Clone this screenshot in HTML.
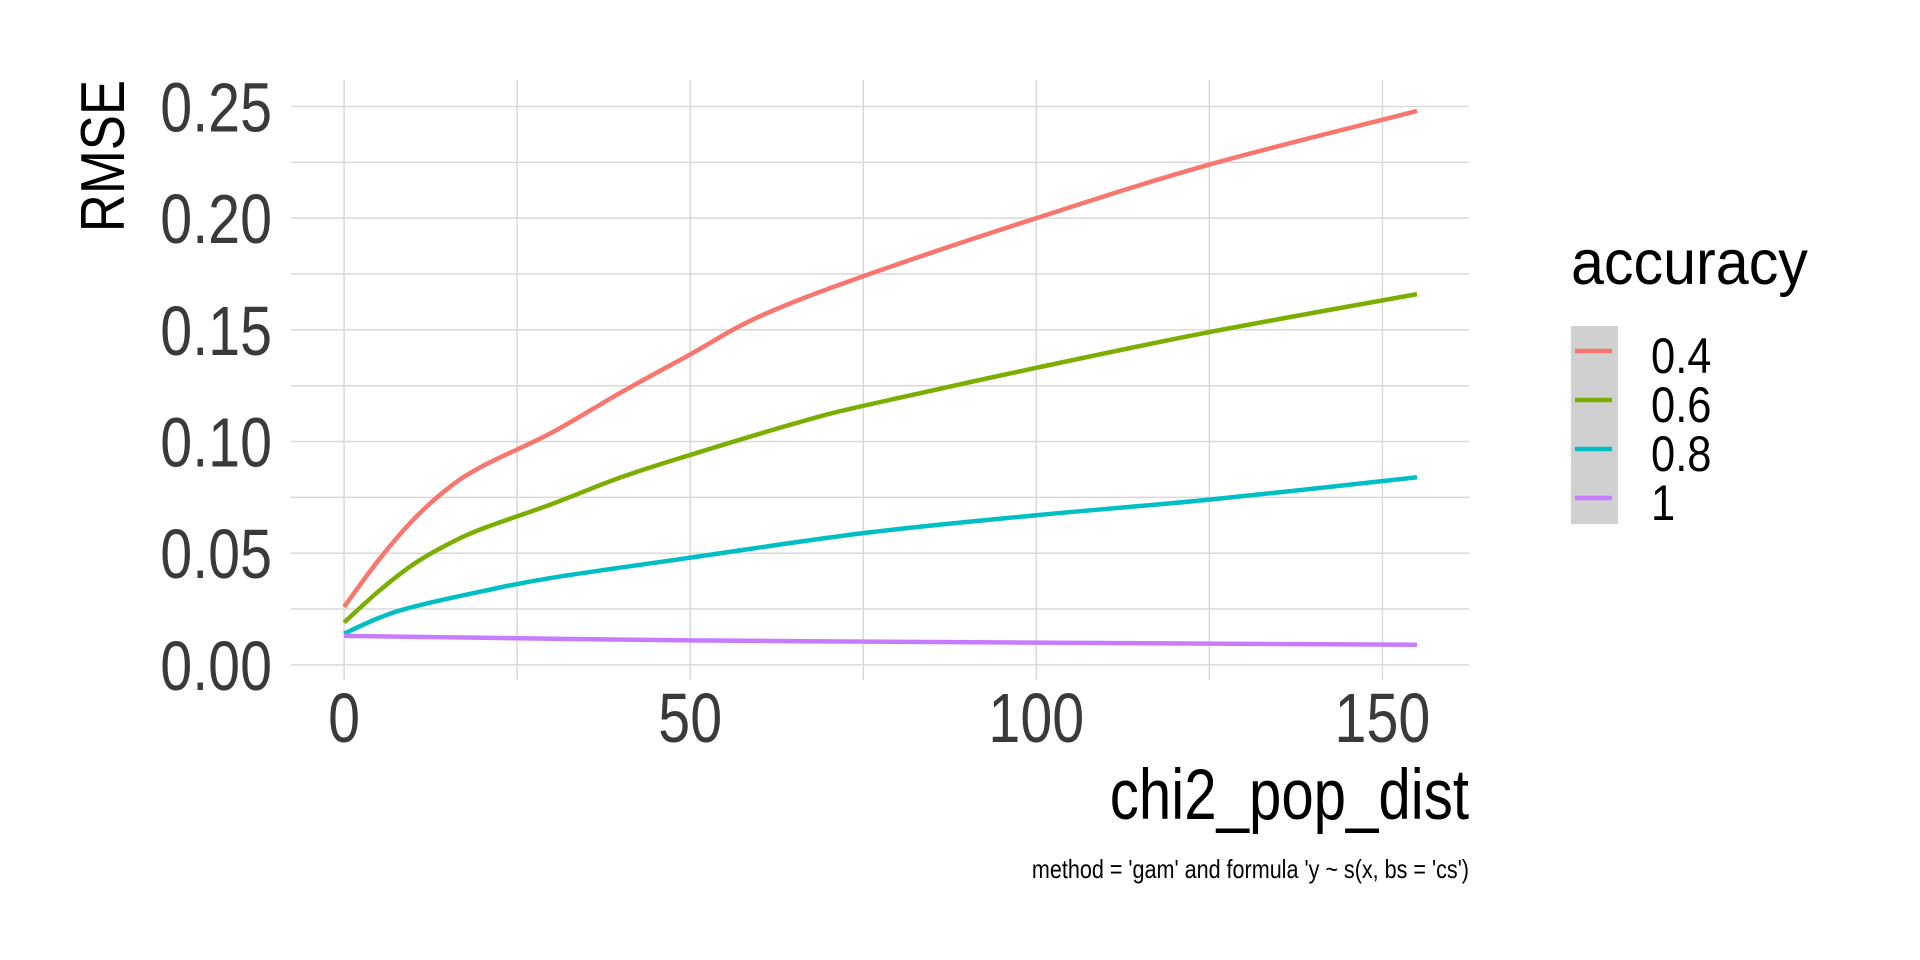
<!DOCTYPE html>
<html><head><meta charset="utf-8"><style>
html,body{margin:0;padding:0;background:#fff;}
svg{display:block;}
text{font-family:"Liberation Sans",sans-serif;}
</style></head><body>
<svg id="s" width="1920" height="960" xmlns="http://www.w3.org/2000/svg">
<g id="grid"></g>
<g id="lines" fill="none" stroke-width="4.5" stroke-linejoin="round" stroke-linecap="butt"></g>
<g fill="#3a3a3a" font-size="70" text-anchor="end" id="ylab"></g>
<g fill="#3a3a3a" font-size="70" text-anchor="middle" id="xlab"></g>
<text transform="translate(124,80) rotate(-90) scale(0.85,1)" text-anchor="end" font-size="62" fill="#000">RMSE</text>
<text transform="translate(1469,819) scale(0.82,1)" text-anchor="end" font-size="71" fill="#000">chi2_pop_dist</text>
<text transform="translate(1469,878) scale(0.83,1)" text-anchor="end" font-size="26" fill="#000">method = 'gam' and formula 'y ~ s(x, bs = 'cs')</text>
<text transform="translate(1571,284) scale(0.94,1)" font-size="63" fill="#000">accuracy</text>
<rect x="1571" y="326" width="47" height="198" fill="#d0d0d0"/>
<g stroke-width="4.5">
<line x1="1575" x2="1612" y1="351" y2="351" stroke="#F8766D"/>
<line x1="1575" x2="1612" y1="400" y2="400" stroke="#7CAE00"/>
<line x1="1575" x2="1612" y1="449" y2="449" stroke="#00BFC4"/>
<line x1="1575" x2="1612" y1="498" y2="498" stroke="#C77CFF"/>
</g>
<g font-size="50" fill="#000">
<text transform="translate(1651,373) scale(0.87,1)">0.4</text>
<text transform="translate(1651,422) scale(0.87,1)">0.6</text>
<text transform="translate(1651,471) scale(0.87,1)">0.8</text>
<text transform="translate(1651,520) scale(0.87,1)">1</text>
</g>
</svg>
<script>
var NS="http://www.w3.org/2000/svg";
function X(v){return 344.1+v*6.922;}
function Y(v){return 664.9-v*2233.6;}
function el(p,t,a,txt){var e=document.createElementNS(NS,t);for(var k in a)e.setAttribute(k,a[k]);if(txt!=null)e.textContent=txt;document.getElementById(p).appendChild(e);return e;}
var L=291,R=1469,T=80,B=680;
for(var i=0;i<=10;i++){var v=i*0.025,y=Y(v);el("grid","line",{x1:L,x2:R,y1:y,y2:y,stroke:"#d9d9d9","stroke-width":1.5});}
for(var i=0;i<=6;i++){var v=i*25,x=X(v);el("grid","line",{x1:x,x2:x,y1:T,y2:B,stroke:"#d9d9d9","stroke-width":1.5});}
["0.00","0.05","0.10","0.15","0.20","0.25"].forEach(function(t,i){el("ylab","text",{transform:"translate(272,"+(Y(i*0.05)+25)+") scale(0.82,1)"},t);});
["0","50","100","150"].forEach(function(t,i){el("xlab","text",{transform:"translate("+X(i*50)+",742) scale(0.82,1)"},t);});
var S=[["#F8766D",[[0,0.026],[5,0.047],[10,0.065],[15,0.079],[20,0.089],[30,0.104],[40,0.122],[50,0.139],[60,0.156],[75,0.174],[100,0.2],[125,0.224],[155,0.248]]],
["#7CAE00",[[0,0.019],[5,0.033],[10,0.045],[15,0.054],[20,0.061],[30,0.072],[40,0.084],[50,0.094],[65,0.108],[75,0.116],[100,0.133],[125,0.149],[155,0.166]]],
["#00BFC4",[[0,0.014],[5,0.021],[10,0.026],[20,0.033],[30,0.039],[50,0.048],[75,0.059],[100,0.067],[125,0.074],[155,0.084]]],
["#C77CFF",[[0,0.013],[50,0.011],[100,0.010],[155,0.009]]]];
S.forEach(function(s){var p=s[1],d="M"+X(p[0][0])+","+Y(p[0][1]);
for(var i=0;i<p.length-1;i++){var p0=p[i-1]||p[i],p1=p[i],p2=p[i+1],p3=p[i+2]||p[i+1];
var c1x=X(p1[0])+(X(p2[0])-X(p0[0]))/6,c1y=Y(p1[1])+(Y(p2[1])-Y(p0[1]))/6,c2x=X(p2[0])-(X(p3[0])-X(p1[0]))/6,c2y=Y(p2[1])-(Y(p3[1])-Y(p1[1]))/6;
d+=" C"+c1x+","+c1y+" "+c2x+","+c2y+" "+X(p2[0])+","+Y(p2[1]);}
el("lines","path",{d:d,stroke:s[0]});});
</script>
</body></html>
